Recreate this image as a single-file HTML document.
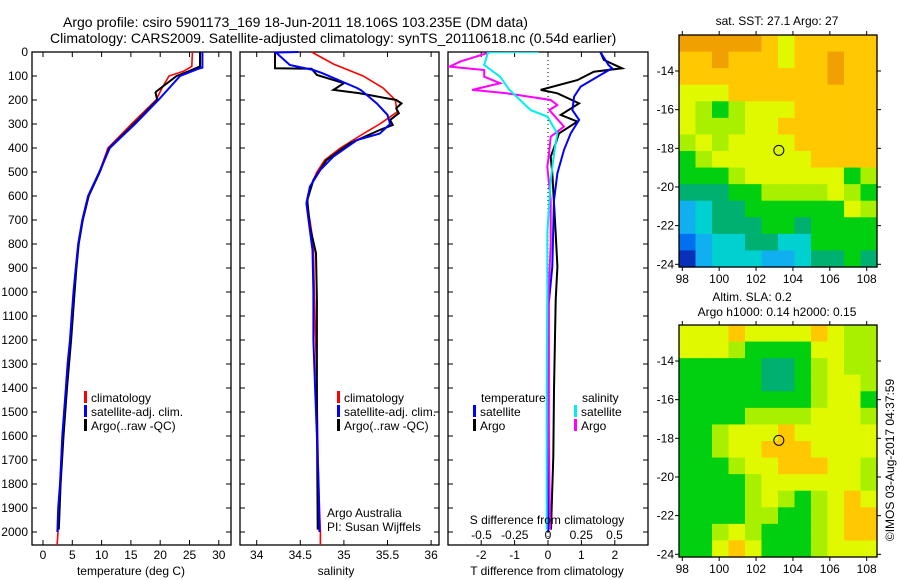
<!DOCTYPE html>
<html><head><meta charset="utf-8"><style>
html,body{margin:0;padding:0;background:#fff;}
svg{display:block;font-family:"Liberation Sans",sans-serif;}
text{font-size:12px;fill:#000;}
</style></head><body>
<svg id="fig" width="900" height="580" viewBox="0 0 900 580" xmlns="http://www.w3.org/2000/svg">
<rect x="0" y="0" width="900" height="580" fill="#fff"/>
<text x="63" y="27" style="font-size:14px">Argo profile: csiro 5901173_169 18-Jun-2011 18.106S 103.235E (DM data)</text>
<text x="50" y="43" style="font-size:14px">Climatology: CARS2009. Satellite-adjusted climatology: synTS_20110618.nc (0.54d earlier)</text>
<g id="g1"></g>
<g id="g2"></g>
<g id="g3"></g>
<g id="m1"></g>
<g id="m2"></g>
<text transform="translate(894,460) rotate(-90)" text-anchor="middle">©IMOS 03-Aug-2017 04:37:59</text>
</svg>
<script>
// ---- data ----
const tempClimDepth=[0,60,80,100,150,200,300,400,500,600,700,800,900,1000,1100,1200,1300,1400,1500,1600,1700,1800,1900,2000,2054];
const tempClim=[25.5,25.4,24.0,21.5,20.3,19.3,15.1,11.1,9.6,7.7,6.7,6.0,5.6,5.2,4.9,4.6,4.2,3.9,3.6,3.3,3.1,2.9,2.7,2.56,2.4];
const tempSatDepth=[0,65,70,100,200,300,400,500,600,700,800,900,1000,1100,1200,1300,1400,1500,1600,1700,1800,1900,2000];
const tempSat=[27.2,27.2,26.5,23.4,19.7,15.7,11.4,9.6,7.7,6.7,6.0,5.6,5.2,4.9,4.6,4.2,3.9,3.6,3.3,3.1,2.9,2.6,2.45];
const tempArgoDepth=[0,60,80,100,165,170,200,300,400,500,600,700,800,900,1000,1200,1400,1600,1800,1990];
const tempArgo=[26.8,26.8,24.9,22.8,19.3,19.2,19.5,15.5,11.3,9.7,7.8,6.8,6.1,5.7,5.4,4.8,4.1,3.5,3.0,2.7];
const salClimDepth=[0,50,100,150,200,250,300,350,400,450,500,550,600,650,700,800,1000,1400,1600,1800,2000,2054];
const salClim=[34.63,34.88,35.22,35.45,35.59,35.61,35.41,35.18,34.96,34.78,34.69,34.63,34.59,34.58,34.61,34.65,34.66,34.69,34.70,34.71,34.73,34.73];
const salSatDepth=[0,2,54,75,88,150,160,215,262,300,340,367,436,491,561,630,686,825,1000,1200,1400,1600,1800,2000];
const salSat=[34.48,34.22,34.38,34.65,34.75,35.15,35.2,35.38,35.5,35.53,35.41,35.15,34.88,34.73,34.61,34.57,34.59,34.64,34.65,34.65,34.67,34.69,34.71,34.72];
const salArgoDepth=[0,68,70,96,130,158,172,200,214,234,255,283,304,325,380,450,533,617,728,838,1033,1500,1990];
const salArgo=[34.21,34.21,34.63,34.69,35.0,34.88,35.18,35.6,35.66,35.6,35.63,35.53,35.56,35.41,35.07,34.8,34.65,34.58,34.61,34.68,34.69,34.69,34.70];
const dTSatDepth=[0,54,68,96,144,186,242,283,339,408,505,617,894,1050,1500,2000];
const dTSat=[1.57,1.81,1.92,1.57,0.98,0.78,0.73,0.93,0.68,0.48,0.28,0.18,0.13,0.02,0.02,0.01];
const dTArgoDepth=[0,33,68,82,117,158,172,214,262,290,339,381,436,505,756,894,1033,1408,1687,1894,1990];
const dTArgo=[1.57,1.67,2.22,1.37,0.88,-0.22,0.28,0.93,0.38,0.88,0.33,0.23,0.08,0.13,0.23,0.28,0.23,0.18,0.16,0.11,0.09];
const dSSatDepth=[0,1,54,103,158,242,269,339,408,533,756,992,1408,1990];
const dSSat=[-0.07,-0.45,-0.48,-0.36,-0.29,-0.13,-0.005,0.07,0.05,0.02,-0.005,-0.005,-0.01,-0.01];
const dSArgoDepth=[0,40,61,75,103,130,158,172,200,221,242,311,353,436,478,617,800,992,1547,1990];
const dSArgo=[-0.43,-0.66,-0.74,-0.48,-0.48,-0.36,-0.57,-0.31,0.02,0.07,0.01,0.12,0.02,0.005,-0.005,0.02,0.02,0.005,0.005,0.015];
const depthTicks=[0,100,200,300,400,500,600,700,800,900,1000,1100,1200,1300,1400,1500,1600,1700,1800,1900,2000];
const tempTicks=[0,5,10,15,20,25,30];
const salTicks=[34,34.5,35,35.5,36];
const salTickLabels=["34","34.5","35","35.5","36"];
const dTTicks=[-2,-1,0,1,2];
const dSTicks=[-0.5,-0.25,0,0.25,0.5];
const dSTickLabels=["-0.5","-0.25","0","0.25","0.5"];
const lonTicks=[98,100,102,104,106,108];
const latTicks=[-14,-16,-18,-20,-22,-24];
const sstGrid=[
[9,9,9,9,9,8,7,8,8,8,8,8],
[8,8,9,8,8,8,7,8,8,9,8,8],
[8,8,8,8,8,8,8,8,8,9,8,8],
[7,7,7,8,8,8,8,8,8,8,8,8],
[7,6,5,6,7,7,7,8,8,8,8,8],
[7,6,6,6,7,7,8,8,8,8,8,8],
[6,7,6,7,7,7,7,8,8,8,8,8],
[5,6,7,7,7,7,7,7,8,8,8,8],
[5,5,5,6,7,7,7,7,7,7,5,6],
[4,4,4,5,5,6,6,6,6,7,6,5],
[2,3,4,4,5,5,5,5,5,5,7,6],
[2,3,4,4,4,5,5,4,5,5,5,5],
[1,2,3,3,4,4,3,3,5,5,5,5],
[0,2,3,3,3,2,2,3,4,4,5,4]];
const slaGrid=[
[7,7,7,8,7,7,7,7,8,7,6,6],
[7,7,7,6,5,5,5,5,7,7,6,6],
[5,5,5,5,5,4,4,5,6,7,6,6],
[5,5,5,5,5,4,4,5,6,7,7,6],
[5,5,5,5,5,5,5,5,6,7,7,5],
[5,5,5,5,6,6,6,6,7,7,7,6],
[5,5,6,7,7,7,8,7,7,7,7,7],
[5,5,6,7,7,8,8,8,7,7,7,7],
[5,5,5,6,7,7,8,8,8,7,7,6],
[5,5,5,5,6,7,7,7,7,7,7,6],
[5,5,5,5,6,7,6,5,6,7,8,7],
[5,5,5,5,6,6,5,5,6,7,8,8],
[5,5,6,7,6,5,5,5,6,7,8,8],
[5,5,7,8,7,5,5,5,6,7,7,7]];
const floatLon=[103.235];
const floatLat=[-18.106];
// ---- drawing ----
const NS="http://www.w3.org/2000/svg";
function mk(tag,attrs,parent,txt){const e=document.createElementNS(NS,tag);for(const k in attrs)e.setAttribute(k,attrs[k]);if(txt!==undefined)e.textContent=txt;parent.appendChild(e);return e;}
const Y0=52,YB=545;
const yD=d=>Y0+d*0.24;
function panel(g,x0,x1,xs,ticks,labels,name){
  const f=mk('rect',{x:x0,y:Y0,width:x1-x0,height:YB-Y0,fill:'none',stroke:'#000','stroke-width':1.3},g);
  
  
  ticks.forEach((t,i)=>{const x=xs(t);
    mk('line',{x1:x,x2:x,y1:Y0,y2:Y0+5,stroke:'#000'},g);
    mk('line',{x1:x,x2:x,y1:YB,y2:YB-5,stroke:'#000'},g);
    if(labels){const tl=mk('text',{x:x,y:559,'text-anchor':'middle'},g,labels[i]);
      
      }
  });
  depthTicks.forEach(d=>{const y=yD(d);
    mk('line',{x1:x0,x2:x0+5,y1:y,y2:y,stroke:'#000'},g);
    mk('line',{x1:x1,x2:x1-5,y1:y,y2:y,stroke:'#000'},g);});
}
function line(g,depths,vals,xs,color,w,name,clip){
  const pts=vals.map((v,i)=>xs(v).toFixed(1)+','+yD(depths[i]).toFixed(1)).join(' ');
  const p=mk('polyline',{points:pts,fill:'none',stroke:color,'stroke-width':w,'stroke-linejoin':'miter'},g);
  if(clip)p.setAttribute('clip-path',clip);
  
  
}
function legend(g,x,y,color,label,name){
  mk('rect',{x:x,y:y-7,width:3,height:12,fill:color},g);
  const t=mk('text',{x:x+7,y:y+4},g,label);
  
  
}
// panel 1
const g1=document.getElementById('g1');
const xT=t=>43+t*5.86;
panel(g1,32,231,xT,tempTicks,tempTicks.map(String),'temperature');
depthTicks.forEach(d=>{const t=mk('text',{x:28,y:yD(d)+4,'text-anchor':'end'},g1,String(d));
  
  });
line(g1,tempClimDepth,tempClim,xT,'#f00',1.6,'temp-climatology-line');
line(g1,tempArgoDepth,tempArgo,xT,'#000',2,'temp-argo-line');
line(g1,tempSatDepth,tempSat,xT,'#00f',2,'temp-satellite-line');
legend(g1,84,398,'#f00','climatology','legend-climatology');
legend(g1,84,412,'#00f','satellite-adj. clim.','legend-satellite');
legend(g1,84,426,'#000','Argo(..raw -QC)','legend-argo');
let t=mk('text',{x:131,y:575,'text-anchor':'middle'},g1,'temperature (deg C)');

// panel 2
const g2=document.getElementById('g2');
const xS=s=>256.7+(s-34)*87.2;
panel(g2,240,439,xS,salTicks,salTickLabels,'salinity');
line(g2,salClimDepth,salClim,xS,'#f00',1.6,'sal-climatology-line');
line(g2,salArgoDepth,salArgo,xS,'#000',2,'sal-argo-line');
line(g2,salSatDepth,salSat,xS,'#00f',2,'sal-satellite-line');
legend(g2,337,398,'#f00','climatology','legend-climatology');
legend(g2,337,412,'#00f','satellite-adj. clim.','legend-satellite');
legend(g2,337,426,'#000','Argo(..raw -QC)','legend-argo');
t=mk('text',{x:327,y:517},g2,'Argo Australia');
t=mk('text',{x:327,y:531},g2,'PI: Susan Wijffels');
t=mk('text',{x:336,y:575,'text-anchor':'middle'},g2,'salinity');
// panel 3
const g3=document.getElementById('g3');
const xdT=v=>548+v*33.4;
const xdS=v=>548+v*133;
const cp=mk('clipPath',{id:'c3'},g3);mk('rect',{x:448,y:Y0,width:200,height:YB-Y0},cp);
panel(g3,448,648,xdT,dTTicks,dTTicks.map(String),'difference');
const zl=mk('line',{x1:548,x2:548,y1:Y0,y2:YB,stroke:'#000','stroke-dasharray':'1,3'},g3);

line(g3,dTArgoDepth,dTArgo,xdT,'#000',2,'dt-argo-line','url(#c3)');
line(g3,dTSatDepth,dTSat,xdT,'#00f',2,'dt-satellite-line','url(#c3)');
line(g3,dSArgoDepth,dSArgo,xdS,'#f0f',2,'ds-argo-line','url(#c3)');
line(g3,dSSatDepth,dSSat,xdS,'#0ee',2,'ds-satellite-line','url(#c3)');
t=mk('text',{x:481,y:402},g3,'temperature');
legend(g3,473,412,'#00f','satellite','legend-t-satellite');
legend(g3,473,426,'#000','Argo','legend-t-argo');
t=mk('text',{x:582,y:402},g3,'salinity');
legend(g3,574,412,'#0ee','satellite','legend-s-satellite');
legend(g3,574,426,'#f0f','Argo','legend-s-argo');
t=mk('text',{x:547,y:524,'text-anchor':'middle'},g3,'S difference from climatology');
dSTicks.forEach((v,i)=>{const tl=mk('text',{x:xdS(v),y:539,'text-anchor':'middle'},g3,dSTickLabels[i]);
  });
t=mk('text',{x:547,y:575,'text-anchor':'middle'},g3,'T difference from climatology');
// maps
const cmap=['#0830b8','#0070f0','#10b0f0','#00d0d0','#00b070','#00d010','#a8f000','#e0f800','#ffc800','#f0a000'];
function map(id,top,grid,titles){
  const g=document.getElementById(id);
  const L=679,R=877,B=top+232;
  const lonX=v=>682.3+(v-98)*18.44;
  const latY=v=>top+36+(-14-v)*19.33;
  const rows=grid.length,cols=grid[0].length,cw=(R-L)/cols,ch=(B-top)/rows;
  grid.forEach((row,r)=>row.forEach((v,c)=>{
    const e=mk('rect',{x:(L+c*cw).toFixed(2),y:(top+r*ch).toFixed(2),width:(cw+0.6).toFixed(2),height:(ch+0.6).toFixed(2),fill:cmap[v]},g);
    
    
  }));
  mk('rect',{x:L,y:top,width:R-L,height:B-top,fill:'none',stroke:'#000','stroke-width':1.3},g);
  lonTicks.forEach(v=>{const x=lonX(v);
    mk('line',{x1:x,x2:x,y1:top,y2:top-4,stroke:'#000'},g);
    mk('line',{x1:x,x2:x,y1:B,y2:B+4,stroke:'#000'},g);
    const tl=mk('text',{x:x,y:B+16,'text-anchor':'middle'},g,String(v));
    });
  latTicks.forEach(v=>{const y=latY(v);
    mk('line',{x1:L,x2:L-4,y1:y,y2:y,stroke:'#000'},g);
    mk('line',{x1:R,x2:R+4,y1:y,y2:y,stroke:'#000'},g);
    const tl=mk('text',{x:674,y:y+4,'text-anchor':'end'},g,String(v));
    });
  const c=mk('circle',{cx:lonX(floatLon[0]),cy:latY(floatLat[0]),r:5,fill:'none',stroke:'#000','stroke-width':1},g);
  
  titles.forEach(tt=>{const e=mk('text',{x:tt[0],y:tt[1],'text-anchor':'middle'},g,tt[2]);
    });
}
map('m1',35,sstGrid,[[777,25,'sat. SST: 27.1 Argo: 27']]);
map('m2',325,slaGrid,[[752,301,'Altim. SLA: 0.2'],[777,316,'Argo h1000: 0.14 h2000: 0.15']]);
</script>
</body></html>
